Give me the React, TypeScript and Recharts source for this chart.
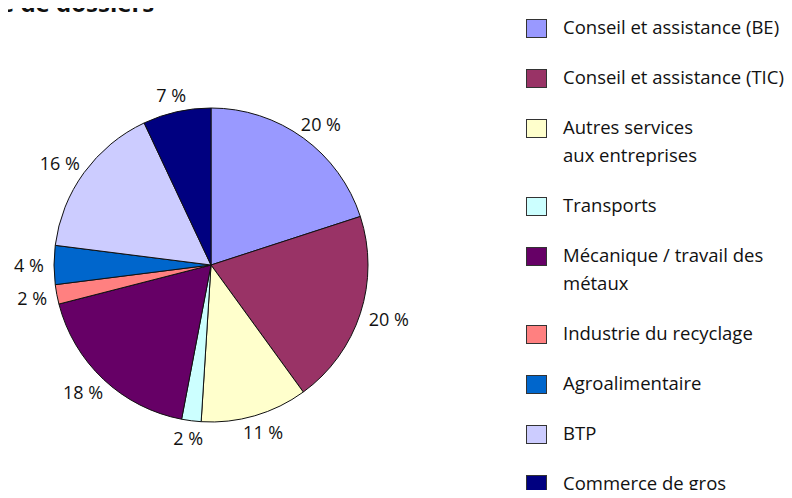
import React from 'react';
import { PieChart, Pie, Cell, Legend } from 'recharts';

const categories = [
  'Conseil et assistance (BE)',
  'Conseil et assistance (TIC)',
  'Autres services aux entreprises',
  'Transports',
  'Mécanique / travail des métaux',
  'Industrie du recyclage',
  'Agroalimentaire',
  'BTP',
  'Commerce de gros',
];
const legendLabels = [
  'Conseil et assistance (BE)',
  'Conseil et assistance (TIC)',
  'Autres services\naux entreprises',
  'Transports',
  'Mécanique / travail des\nmétaux',
  'Industrie du recyclage',
  'Agroalimentaire',
  'BTP',
  'Commerce de gros',
];
const shares = [20, 20, 11, 2, 18, 2, 4, 16, 7];
const colors = ['#9999FF', '#993366', '#FFFFCC', '#CCFFFF', '#660066', '#FF8080', '#0066CC', '#CCCCFF', '#000080'];
const titleText = 'e de dossiers';

const data = categories.map((name, i) => ({ name, value: shares[i] }));

const FONT = '"Open Sans", sans-serif';
const RADIAN = Math.PI / 180;

const renderLabel = (props: any) => {
  const { cx, cy, midAngle, outerRadius, value } = props;
  const cos = Math.cos(-midAngle * RADIAN);
  const sin = Math.sin(-midAngle * RADIAN);
  const text = `${value} %`;
  const w = text.length * 10;
  const h = 14;
  const x = cx + (outerRadius + 10) * cos + (w / 2) * cos;
  const y = cy + (outerRadius + 10) * sin + (h / 2) * sin;
  return (
    <text x={x} y={y} textAnchor="middle" dominantBaseline="central" fontFamily={FONT} fontSize={18} fill="#111">
      {text}
    </text>
  );
};

const LegendContent = () => (
  <div style={{ fontFamily: FONT, fontSize: 18.5, color: '#111' }}>
    {legendLabels.map((lbl, i) => (
      <div key={i} style={{ display: 'flex', marginBottom: 22 }}>
        <div
          style={{
            width: 21,
            height: 19,
            background: colors[i],
            border: '1.5px solid #333',
            boxSizing: 'border-box',
            marginTop: 6,
            marginRight: 16,
            flexShrink: 0,
          }}
        />
        <div style={{ lineHeight: '28px', whiteSpace: 'pre-line' }}>{lbl}</div>
      </div>
    ))}
  </div>
);

export default function App() {
  return (
    <div style={{ margin: -8, position: 'relative', width: 792, height: 498, background: '#fff', overflow: 'hidden' }}>
      <svg width={300} height={30} style={{ position: 'absolute', left: 0, top: 0, zIndex: 2 }}>
        <text x={0} y={12} fontFamily={FONT} fontWeight="bold" fontSize={24} fill="#111">
          {titleText}
        </text>
      </svg>
      <PieChart width={792} height={498} margin={{ top: 0, right: 0, bottom: 0, left: 0 }}>
        <Pie
          data={data}
          dataKey="value"
          nameKey="name"
          cx={211}
          cy={265}
          outerRadius={157}
          startAngle={90}
          endAngle={-270}
          stroke="#111"
          strokeWidth={1}
          label={renderLabel}
          labelLine={false}
          isAnimationActive={false}
        >
          {data.map((d, i) => (
            <Cell key={d.name} fill={colors[i]} />
          ))}
        </Pie>
        <Legend
          content={<LegendContent />}
          wrapperStyle={{ position: 'absolute', left: 526, top: 13, width: 266, bottom: 'auto', right: 'auto' }}
        />
      </PieChart>
    </div>
  );
}
